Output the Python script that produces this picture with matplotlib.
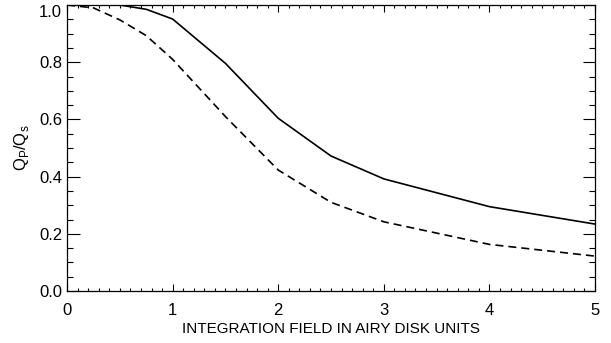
import numpy as np
import matplotlib.pyplot as plt
from matplotlib.ticker import MultipleLocator

plt.rcParams['font.family'] = ['Liberation Sans', 'DejaVu Sans']

# Данные
field = [0, 0.25, 0.5, 0.75, 1.0, 1.5, 2.0, 2.5, 3.0, 4.0, 5.0]
q_solid = [1.0, 1.0, 1.0, 0.985, 0.951, 0.796, 0.604, 0.472, 0.392, 0.295, 0.234]
q_dashed = [1.0, 0.99, 0.948, 0.893, 0.81, 0.61, 0.423, 0.31, 0.242, 0.163, 0.122]

fig = plt.figure(figsize=(6.11, 3.43), dpi=100)
ax = fig.add_axes([0.1097, 0.1516, 0.8641, 0.8338])

ax.plot(field, q_solid, color='black', lw=1.2)
ax.plot(field, q_dashed, color='black', lw=1.2, dashes=(4.8, 3.0))

ax.set_xlim(0, 5)
ax.set_ylim(0, 1.0)
ax.xaxis.set_major_locator(MultipleLocator(1))
ax.xaxis.set_minor_locator(MultipleLocator(0.1))
ax.yaxis.set_major_locator(MultipleLocator(0.2))
ax.yaxis.set_minor_locator(MultipleLocator(0.05))
ax.xaxis.set_major_formatter(plt.FuncFormatter(lambda v, p: f'{v:.0f}'))
ax.yaxis.set_major_formatter(plt.FuncFormatter(lambda v, p: f'{v:.1f}'))

ax.tick_params(axis='both', which='both', direction='in', top=True, right=True,
               labelsize=12, width=0.8)
ax.tick_params(axis='x', which='major', length=5, pad=8.5)
ax.tick_params(axis='x', which='minor', length=2.5)
ax.tick_params(axis='y', which='major', length=9, pad=3.5)
ax.tick_params(axis='y', which='minor', length=4.5)
for s in ax.spines.values():
    s.set_linewidth(0.9)

ax.set_xlabel('INTEGRATION FIELD IN AIRY DISK UNITS', fontsize=11, labelpad=3)
ax.set_ylabel(r'Q$_\mathregular{P}$/Q$_\mathregular{s}$', fontsize=12, labelpad=6)

# верхняя подпись 1.0 сдвинута вниз, чтобы не обрезалась
fig.canvas.draw()
ax.yaxis.get_major_ticks()[-1].label1.set_va('top')
for t in ax.yaxis.get_major_ticks():
    if abs(t.get_loc() - 1.0) < 1e-6:
        t.label1.set_va('top')

fig.savefig('out.png', dpi=100)
